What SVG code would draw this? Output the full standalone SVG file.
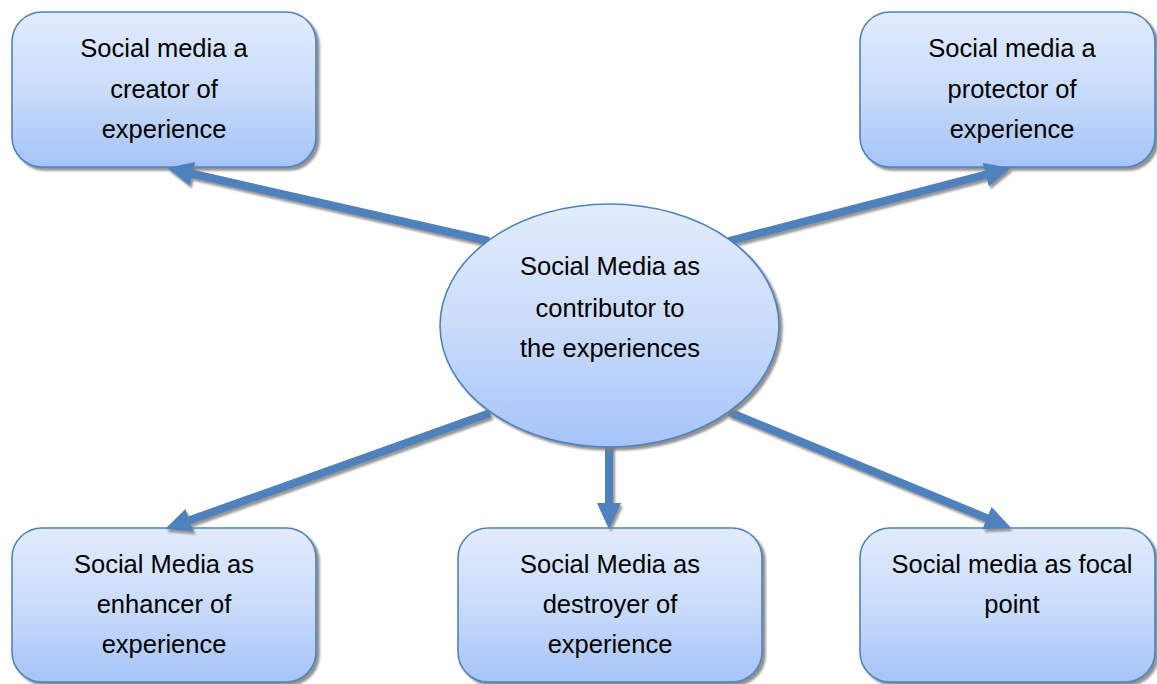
<svg xmlns="http://www.w3.org/2000/svg" width="1157" height="684" viewBox="0 0 1157 684">
<style>
.node{fill:url(#g);stroke:#4F81BD;stroke-width:1.6;filter:url(#sh)}
.arrow{fill:#4F81BD;filter:url(#sh2)}
text{font-family:"Liberation Sans",Arial,sans-serif;font-size:25.5px;fill:#000;text-anchor:middle}
</style>
<defs>
<linearGradient id="g" x1="0" y1="0" x2="0" y2="1">
<stop offset="0" stop-color="#E2ECFD"/>
<stop offset="0.5" stop-color="#CADCFB"/>
<stop offset="1" stop-color="#A5C4F8"/>
</linearGradient>
<filter id="sh" x="-10%" y="-10%" width="130%" height="130%">
<feDropShadow dx="3" dy="3" stdDeviation="1" flood-color="#7F7F7F" flood-opacity="0.85"/>
</filter>
<filter id="sh2" x="-10%" y="-10%" width="130%" height="130%">
<feDropShadow dx="2" dy="3" stdDeviation="0.8" flood-color="#8C8C8C" flood-opacity="0.9"/>
</filter>
</defs>
<g id="n1">
<rect class="node" x="12" y="12" width="304" height="155" rx="30"/>
<text x="164" y="57">Social media a</text>
<text x="164" y="97.5">creator of</text>
<text x="164" y="138">experience</text>
</g>
<g id="n2">
<rect class="node" x="860" y="12" width="295" height="155" rx="30"/>
<text x="1012" y="57">Social media a</text>
<text x="1012" y="97.5">protector of</text>
<text x="1012" y="138">experience</text>
</g>
<g id="n4">
<rect class="node" x="12" y="528" width="304" height="154" rx="30"/>
<text x="164" y="573">Social Media as</text>
<text x="164" y="613">enhancer of</text>
<text x="164" y="653">experience</text>
</g>
<g id="n5">
<rect class="node" x="458" y="528" width="304" height="154" rx="30"/>
<text x="610" y="573">Social Media as</text>
<text x="610" y="613">destroyer of</text>
<text x="610" y="653">experience</text>
</g>
<g id="n6">
<rect class="node" x="860" y="528" width="295" height="154" rx="30"/>
<text x="1012" y="573">Social media as focal</text>
<text x="1012" y="613">point</text>
</g>
<g id="connectors">
<polygon class="arrow" points="489.88,237.10 193.24,169.85 195.01,162.05 167,168 189.71,185.45 191.48,177.65 488.12,244.90"/>
<polygon class="arrow" points="730.00,244.87 986.83,178.39 988.84,186.14 1011,168 982.82,162.90 984.83,170.65 728.00,237.13"/>
<polygon class="arrow" points="488.66,409.23 188.14,516.49 185.45,508.96 165,529 193.52,531.56 190.83,524.03 491.35,416.77"/>
<polygon class="arrow" points="605,440 605,503 597,503 609,529 621,503 613,503 613,440"/>
<polygon class="arrow" points="727.48,415.70 985.44,521.81 982.40,529.21 1011,528 991.53,507.01 988.48,514.41 730.52,408.30"/>
</g>
<g id="n3">
<ellipse class="node" cx="609.5" cy="325.5" rx="169.5" ry="121.5"/>
<text x="610" y="275">Social Media as</text>
<text x="610" y="317">contributor to</text>
<text x="610" y="357">the experiences</text>
</g>
</svg>
